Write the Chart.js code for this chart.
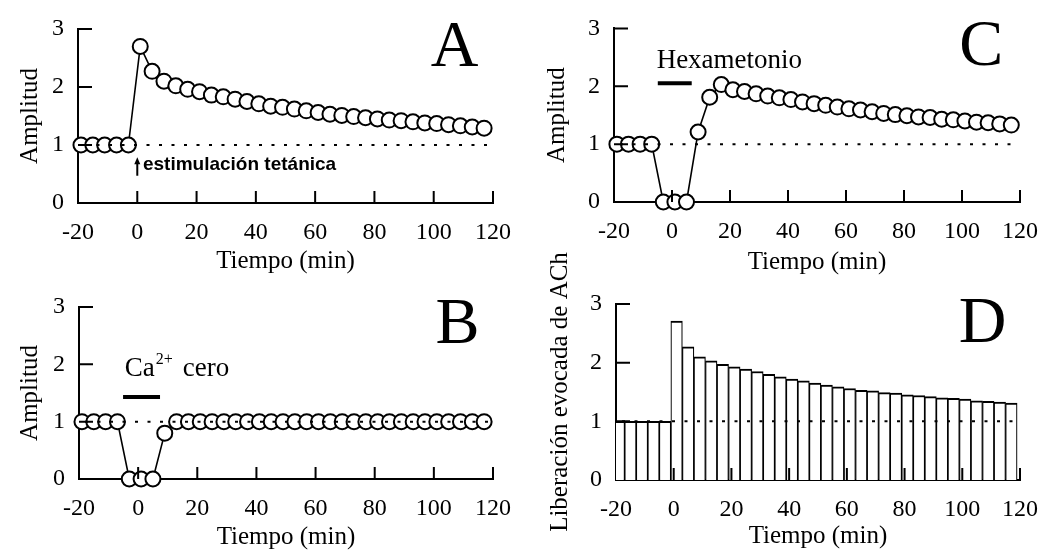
<!DOCTYPE html>
<html>
<head>
<meta charset="utf-8">
<script src="https://cdn.jsdelivr.net/npm/chart.js@4.4.0/dist/chart.umd.min.js"></script>
<style>
body { margin: 0; background: #fff; }
#wrap { position: relative; width: 1053px; height: 551px; overflow: hidden; }
canvas { position: absolute; }
</style>
</head>
<body>
<div id="wrap">
<canvas id="chartA" width="526" height="276" style="left:0px;top:0px"></canvas>
<canvas id="chartC" width="527" height="276" style="left:526px;top:0px"></canvas>
<canvas id="chartB" width="526" height="275" style="left:0px;top:276px"></canvas>
<canvas id="chartD" width="527" height="311" style="left:526px;top:240px"></canvas>
</div>
<script>
// tiempo de cada registro (min)
var times = [-19, -15, -11, -7, -3, 1, 5, 9, 13, 17, 21, 25, 29, 33, 37, 41, 45, 49, 53, 57,
    61, 65, 69, 73, 77, 81, 85, 89, 93, 97, 101, 105, 109, 113, 117]
// A: estimulacion tetanica
var ampA = [1, 1, 1, 1, 1, 2.70, 2.27, 2.10, 2.02, 1.96, 1.92, 1.86, 1.83, 1.79, 1.75, 1.71, 1.67, 1.65, 1.62, 1.59,
    1.56, 1.53, 1.51, 1.49, 1.47, 1.45, 1.43, 1.42, 1.40, 1.38, 1.37, 1.35, 1.33, 1.31, 1.29]
// B: Ca2+ cero
var ampB = [1, 1, 1, 1, 0, 0, 0, 0.8, 1, 1, 1, 1, 1, 1, 1, 1, 1, 1, 1, 1,
    1, 1, 1, 1, 1, 1, 1, 1, 1, 1, 1, 1, 1, 1, 1]
// C: hexametonio
var ampC = [1, 1, 1, 1, 0, 0, 0, 1.21, 1.81, 2.03, 1.94, 1.91, 1.87, 1.83, 1.80, 1.77, 1.73, 1.70, 1.67, 1.64,
    1.61, 1.59, 1.56, 1.53, 1.51, 1.49, 1.47, 1.46, 1.43, 1.42, 1.40, 1.38, 1.37, 1.35, 1.33]
// D: liberacion evocada de ACh
var ach = [1, 1, 1, 1, 1, 2.71, 2.27, 2.10, 2.03, 1.97, 1.93, 1.89, 1.85, 1.80, 1.76, 1.72, 1.69, 1.65, 1.62, 1.59,
    1.56, 1.53, 1.52, 1.49, 1.48, 1.45, 1.44, 1.42, 1.40, 1.39, 1.38, 1.35, 1.34, 1.33, 1.31]
var xTicks = [-20, 0, 20, 40, 60, 80, 100, 120]
var yTicks = [0, 1, 2, 3]

var serif = "'Liberation Serif', 'Times New Roman', serif"

function pts(values) {
    return times.map(function (t, i) { return { x: t, y: values[i] } })
}

function lineSet(values) {
    return {
        data: pts(values),
        showLine: true,
        borderColor: '#000',
        borderWidth: 1.6,
        pointRadius: 7.5,
        pointBorderWidth: 2,
        pointBackgroundColor: '#fff',
        pointBorderColor: '#000',
        clip: false
    }
}

//ticks hacia adentro y linea punteada en 1
function axisMarks(chart) {
    var ctx = chart.ctx, x = chart.scales.x, y = chart.scales.y, a = chart.chartArea
    ctx.save()
    ctx.strokeStyle = '#000'
    ctx.lineWidth = 2
    ctx.beginPath()
    xTicks.forEach(function (v) {
        if (v <= -20) return
        var px = x.getPixelForValue(v)
        ctx.moveTo(px, a.bottom)
        ctx.lineTo(px, a.bottom - 12)
    })
    yTicks.forEach(function (v) {
        if (v <= 0) return
        var py = y.getPixelForValue(v)
        ctx.moveTo(a.left, py)
        ctx.lineTo(a.left + 14, py)
    })
    ctx.stroke()
    ctx.setLineDash([3, 9.5])
    ctx.beginPath()
    var p1 = y.getPixelForValue(1)
    ctx.moveTo(x.getPixelForValue(-20) + 6, p1)
    ctx.lineTo(x.getPixelForValue(120), p1)
    ctx.stroke()
    ctx.restore()
}

function letter(chart, txt, vx, vy) {
    var ctx = chart.ctx
    ctx.save()
    ctx.fillStyle = '#000'
    ctx.font = '66px ' + serif
    ctx.textAlign = 'center'
    ctx.textBaseline = 'alphabetic'
    ctx.fillText(txt, chart.scales.x.getPixelForValue(vx), chart.scales.y.getPixelForValue(vy))
    ctx.restore()
}

function thickBar(chart, x0, x1, vy) {
    var ctx = chart.ctx, x = chart.scales.x, y = chart.scales.y
    ctx.save()
    ctx.strokeStyle = '#000'
    ctx.lineWidth = 4
    ctx.beginPath()
    ctx.moveTo(x.getPixelForValue(x0), y.getPixelForValue(vy))
    ctx.lineTo(x.getPixelForValue(x1), y.getPixelForValue(vy))
    ctx.stroke()
    ctx.restore()
}

function panel(id, type, dataset, pad, yw, xh, ytitle, ytsize, ytpad, xtpad, extra) {
    return new Chart(document.getElementById(id), {
        type: type,
        data: { datasets: [dataset] },
        options: {
            responsive: false,
            animation: false,
            layout: { padding: pad },
            plugins: { legend: { display: false }, tooltip: { enabled: false } },
            scales: {
                x: {
                    type: 'linear', min: -20, max: 120, offset: false,
                    afterBuildTicks: function (s) { s.ticks = xTicks.map(function (v) { return { value: v } }) },
                    ticks: { padding: 15, color: '#000', font: { family: serif, size: 24 } },
                    grid: { display: false, drawTicks: false, offset: false },
                    border: { color: '#000', width: 2 },
                    title: {
                        display: true, text: 'Tiempo (min)', color: '#000',
                        font: { family: serif, size: 25, lineHeight: 1 }, padding: { top: 0, bottom: xtpad }
                    },
                    afterFit: function (s) { s.height = xh }
                },
                y: {
                    type: 'linear', min: 0, max: 3,
                    afterBuildTicks: function (s) { s.ticks = yTicks.map(function (v) { return { value: v } }) },
                    ticks: { padding: 14, color: '#000', font: { family: serif, size: 24 } },
                    grid: { display: false, drawTicks: false },
                    border: { color: '#000', width: 2 },
                    title: {
                        display: true, text: ytitle, color: '#000',
                        font: { family: serif, size: ytsize, lineHeight: 1 }, padding: { top: ytpad, bottom: 0 }
                    },
                    afterFit: function (s) { s.width = yw }
                }
            }
        },
        plugins: [{
            id: 'marcas',
            afterDraw: function (c) { axisMarks(c); extra(c) }
        }]
    })
}

// A
panel('chartA', 'scatter', lineSet(ampA), { left: 0, right: 33, top: 29, bottom: 0 }, 78, 73, 'Amplitud', 25, 18, 2, function (c) {
    letter(c, 'A', 107, 2.37)
    var ctx = c.ctx, x = c.scales.x, y = c.scales.y
    var ax = x.getPixelForValue(0)
    ctx.save()
    ctx.strokeStyle = '#000'
    ctx.fillStyle = '#000'
    ctx.lineWidth = 2
    ctx.beginPath()
    ctx.moveTo(ax, y.getPixelForValue(0.47))
    ctx.lineTo(ax, y.getPixelForValue(0.72))
    ctx.stroke()
    var tip = y.getPixelForValue(0.79)
    ctx.beginPath()
    ctx.moveTo(ax, tip)
    ctx.lineTo(ax - 3, tip + 7)
    ctx.lineTo(ax + 3, tip + 7)
    ctx.closePath()
    ctx.fill()
    ctx.font = "bold 19px 'Liberation Sans', Arial, sans-serif"
    ctx.textBaseline = 'middle'
    ctx.fillText('estimulación tetánica', x.getPixelForValue(1.9), y.getPixelForValue(0.66))
    ctx.restore()
})

// B
panel('chartB', 'scatter', lineSet(ampB), { left: 0, right: 33, top: 31, bottom: 0 }, 79, 72, 'Amplitud', 25, 18, 1, function (c) {
    letter(c, 'B', 108, 2.37)
    var ctx = c.ctx, x = c.scales.x, y = c.scales.y
    var lx = x.getPixelForValue(-4.5), by = y.getPixelForValue(1.79)
    ctx.save()
    ctx.fillStyle = '#000'
    ctx.textBaseline = 'alphabetic'
    ctx.font = '27px ' + serif
    ctx.fillText('Ca', lx, by)
    var w = ctx.measureText('Ca').width
    ctx.font = '16px ' + serif
    ctx.fillText('2+', lx + w + 1, by - 12)
    ctx.font = '27px ' + serif
    ctx.fillText('cero', lx + w + 28, by)
    ctx.restore()
    thickBar(c, -5.1, 7.4, 1.43)
})

// C
panel('chartC', 'scatter', lineSet(ampC), { left: 0, right: 31, top: 25, bottom: 0 }, 88, 74, 'Amplitud', 25, 19, 1.5, function (c) {
    letter(c, 'C', 106.6, 2.37)
    var ctx = c.ctx, x = c.scales.x, y = c.scales.y
    ctx.save()
    ctx.fillStyle = '#000'
    ctx.textBaseline = 'alphabetic'
    ctx.font = '27px ' + serif
    ctx.fillText('Hexametonio', x.getPixelForValue(-5.3), y.getPixelForValue(2.32))
    ctx.restore()
    thickBar(c, -4.9, 6.8, 2.05)
})

// D
panel('chartD', 'bar', {
    data: pts(ach),
    backgroundColor: '#fff',
    borderColor: '#000',
    borderWidth: { top: 2, left: 1.2, right: 1.2, bottom: 0 },
    borderSkipped: false,
    barPercentage: 1,
    categoryPercentage: 1,
    clip: 0
}, { left: 0, right: 29, top: 64, bottom: 0 }, 90, 71, 'Liberación evocada de ACh', 25, 22, 2, function (c) {
    letter(c, 'D', 107, 2.35)
})
</script>
</body>
</html>
